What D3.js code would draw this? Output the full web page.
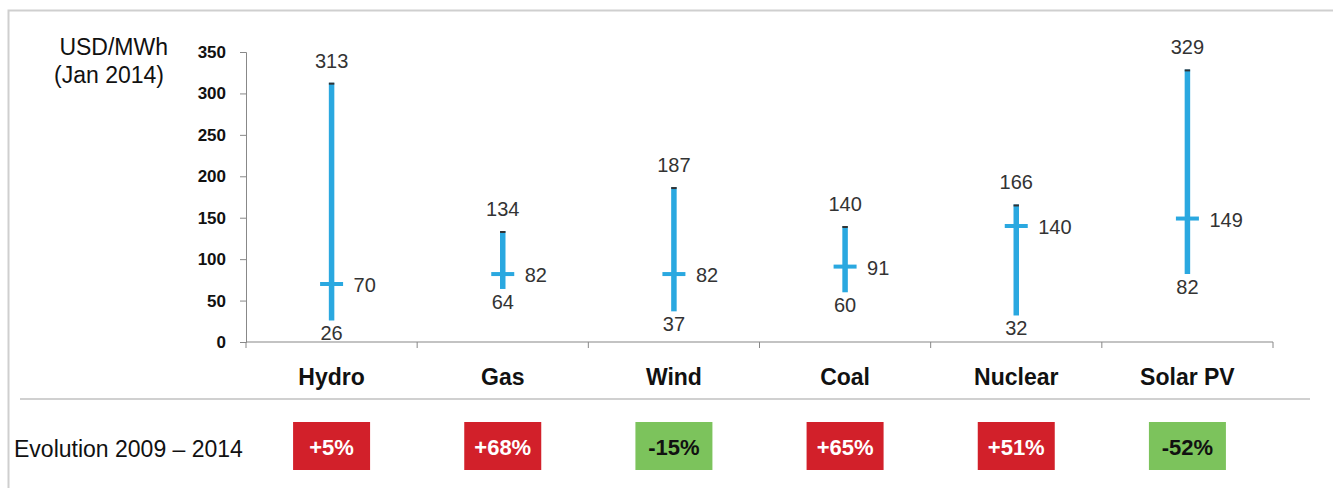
<!DOCTYPE html>
<html><head><meta charset="utf-8">
<script src="https://cdn.jsdelivr.net/npm/d3@7"></script>
<style>body{margin:0;background:#fff}svg{display:block;font-family:Arial,"Liberation Sans",sans-serif}</style>
</head><body><svg id="c" width="1333" height="488"></svg>
<script>
const categories = ["Hydro","Gas","Wind","Coal","Nuclear","Solar PV"];
const maxValues = [313,134,187,140,166,329];
const minValues = [26,64,37,60,32,82];
const medianValues = [70,82,82,91,140,149];
const evolutionLabels = ["+5%","+68%","-15%","+65%","+51%","-52%"];
const evolutionValues = [5,68,-15,65,51,-52];
const yTicks = [0,50,100,150,200,250,300,350];

const svg = d3.select("#c");
const x = d3.scaleBand().domain(categories).range([246,1273]);
const y = d3.scaleLinear().domain([0,350]).range([342,52]);

// frame
svg.append("path").attr("d","M8.5,488 L8.5,10.5 L1333,10.5").attr("fill","none").attr("stroke","#cfcfcf").attr("stroke-width",2);

// y axis
const ya = svg.append("g").attr("transform","translate(246,0)").call(d3.axisLeft(y).tickValues(yTicks).tickSize(6).tickPadding(14));
ya.select(".domain").attr("stroke","#888");
ya.selectAll(".tick line").attr("stroke","#888");
ya.selectAll(".tick text").attr("font-size",17).attr("font-weight","bold").attr("fill","#111").attr("font-family","Arial,'Liberation Sans',sans-serif");

// x axis
const xa = svg.append("g").attr("transform","translate(0,342)");
xa.append("line").attr("x1",246).attr("x2",1273).attr("stroke","#888").attr("stroke-width",1.2);
const bounds = categories.map(c=>x(c)).concat([x(categories[categories.length-1])+x.bandwidth()]);
xa.selectAll("line.t").data(bounds).join("line").attr("class","t")
  .attr("x1",d=>d).attr("x2",d=>d).attr("y1",0).attr("y2",6).attr("stroke","#888");
svg.selectAll("text.cat").data(categories).join("text").attr("class","cat")
  .attr("x",d=>x(d)+x.bandwidth()/2).attr("y",385).attr("text-anchor","middle")
  .attr("font-size",23).attr("font-weight","bold").attr("fill","#111").text(d=>d);

// y title
const yt = svg.append("text").attr("text-anchor","end").attr("font-size",23).attr("fill","#111");
yt.append("tspan").attr("x",168).attr("y",55).text("USD/MWh");
yt.append("tspan").attr("x",164).attr("y",83).text("(Jan 2014)");

const data = categories.map((c,i)=>({c,max:maxValues[i],min:minValues[i],med:medianValues[i],lab:evolutionLabels[i],ev:evolutionValues[i]}));
const cx = d=>x(d.c)+x.bandwidth()/2;
const blue = "#2aa8e0";
const g = svg.selectAll("g.rng").data(data).join("g").attr("class","rng");
g.append("line").attr("x1",cx).attr("x2",cx).attr("y1",d=>y(d.max)).attr("y2",d=>y(d.min)).attr("stroke",blue).attr("stroke-width",5.5);
g.append("line").attr("x1",d=>cx(d)-2.7).attr("x2",d=>cx(d)+2.7).attr("y1",d=>y(d.max)+1).attr("y2",d=>y(d.max)+1).attr("stroke","#333").attr("stroke-width",2);
g.append("line").attr("x1",d=>cx(d)-11.5).attr("x2",d=>cx(d)+11.5).attr("y1",d=>y(d.med)).attr("y2",d=>y(d.med)).attr("stroke",blue).attr("stroke-width",4);
g.append("text").attr("x",cx).attr("y",d=>y(d.max)-15).attr("text-anchor","middle").attr("font-size",20).attr("fill","#333").text(d=>d.max);
g.append("text").attr("x",cx).attr("y",d=>y(d.min)+20).attr("text-anchor","middle").attr("font-size",20).attr("fill","#333").text(d=>d.min);
g.append("text").attr("x",d=>cx(d)+22).attr("y",d=>y(d.med)+8).attr("font-size",20).attr("fill","#333").text(d=>d.med);

// separator
svg.append("line").attr("x1",20).attr("x2",1310).attr("y1",399).attr("y2",399).attr("stroke","#d0d0d0").attr("stroke-width",2);

// evolution row
svg.append("text").attr("x",14).attr("y",457).attr("font-size",23).attr("fill","#111").text("Evolution 2009 \u2013 2014");
const eb = svg.selectAll("g.ev").data(data).join("g").attr("class","ev");
eb.append("rect").attr("x",d=>cx(d)-38.5).attr("y",422).attr("width",77).attr("height",48)
  .attr("fill",d=>d.ev>=0?"#d2202a":"#7cc35c");
eb.append("text").attr("x",cx).attr("y",455).attr("text-anchor","middle").attr("font-size",22).attr("font-weight","bold")
  .attr("fill",d=>d.ev>=0?"#fff":"#111").text(d=>d.lab);
</script></body></html>
